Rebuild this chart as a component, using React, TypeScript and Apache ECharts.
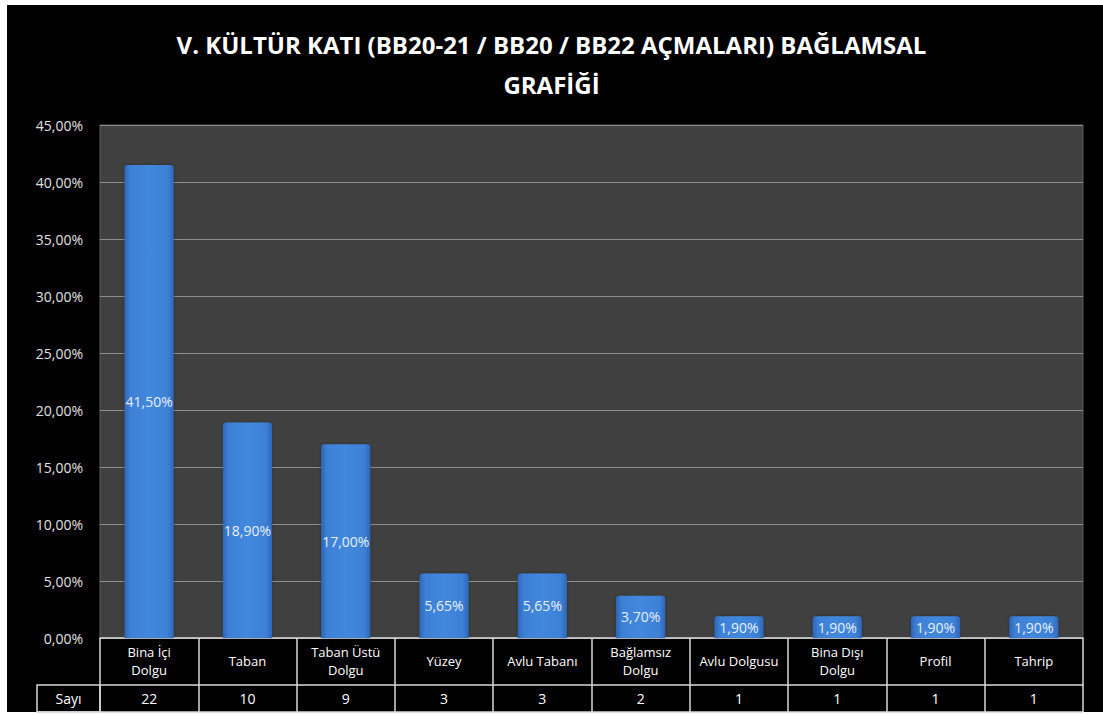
import React, { useEffect, useRef } from "react";
import * as echarts from "echarts";

const title = "V. KÜLTÜR KATI (BB20-21 / BB20 / BB22 AÇMALARI) BAĞLAMSAL\nGRAFİĞİ";
const categories = [
  "Bina İçi\nDolgu",
  "Taban",
  "Taban Üstü\nDolgu",
  "Yüzey",
  "Avlu Tabanı",
  "Bağlamsız\nDolgu",
  "Avlu Dolgusu",
  "Bina Dışı\nDolgu",
  "Profil",
  "Tahrip",
];
const percents = [41.5, 18.9, 17.0, 5.65, 5.65, 3.7, 1.9, 1.9, 1.9, 1.9];
const counts = ["22", "10", "9", "3", "3", "2", "1", "1", "1", "1"];
const countLabel = "Sayı";
const yTicks = { min: 0, max: 45, interval: 5 };

const FONT = "'Open Sans', 'Noto Sans', sans-serif";
const fmt = (v: number) => v.toFixed(2).replace(".", ",") + "%";

export default function App() {
  const ref = useRef<HTMLDivElement>(null);
  useEffect(() => {
    document.body.style.margin = "0";
    const chart = echarts.init(ref.current!, undefined, { renderer: "svg" });
    const L = 100, R = 20, T = 125, B = 77;
    const W = 1103, H = 715;
    const zeroY = H - B;
    chart.setOption({
      animation: false,
      backgroundColor: "#ffffff",
      title: {
        text: title,
        left: "center",
        top: 19,
        textStyle: { color: "#ffffff", fontSize: 24, fontWeight: "bold", fontFamily: FONT, lineHeight: 40 },
      },
      graphic: [
        { type: "rect", z: -10, silent: true, shape: { x: 7, y: 5, width: W - 7, height: 707 }, style: { fill: "#000000" } },
        { type: "rect", z: 10, shape: { x: 37, y: zeroY + 47, width: L - 37, height: 27 }, style: { fill: "none", stroke: "#d8d8d8", lineWidth: 1.5 } },
        { type: "line", z: 10, shape: { x1: 37, y1: zeroY + 74, x2: W - R, y2: zeroY + 74 }, style: { stroke: "#d8d8d8", lineWidth: 1.5 } },
        { type: "text", z: 10, x: (37 + L) / 2, y: zeroY + 60.5, style: { text: countLabel, fill: "#ffffff", font: `14px ${FONT}`, align: "center", verticalAlign: "middle" } },
      ],
      grid: { left: L, right: R, top: T, bottom: B, show: true, backgroundColor: "#404040", borderColor: "#5c5c5c", borderWidth: 1 },
      xAxis: [
        {
          type: "category",
          data: categories,
          axisLine: { show: true, lineStyle: { color: "#d8d8d8", width: 1.5 } },
          axisTick: { show: true, interval: 0, length: 74, lineStyle: { color: "#d8d8d8", width: 1.5 } },
          axisLabel: { interval: 0, color: "#ffffff", fontSize: 13, fontFamily: FONT, margin: 23, verticalAlign: "middle", lineHeight: 18 },
        },
        {
          type: "category",
          data: counts,
          position: "bottom",
          offset: 47,
          axisLine: { show: true, lineStyle: { color: "#d8d8d8", width: 1.5 } },
          axisTick: { show: false },
          axisLabel: { interval: 0, color: "#ffffff", fontSize: 14, fontFamily: FONT, margin: 13.5, verticalAlign: "middle" },
        },
      ],
      yAxis: {
        type: "value",
        min: yTicks.min,
        max: yTicks.max,
        interval: yTicks.interval,
        axisLine: { show: false },
        axisTick: { show: false },
        splitLine: { lineStyle: { color: "#8c8c8c", width: 1 } },
        axisLabel: { color: "#e0e0e0", fontSize: 14, fontFamily: FONT, margin: 17, formatter: (v: number) => fmt(v) },
      },
      series: [
        {
          type: "bar",
          data: percents,
          xAxisIndex: 0,
          barWidth: "50%",
          itemStyle: {
            color: new echarts.graphic.LinearGradient(0, 0, 1, 0, [
              { offset: 0, color: "#2d66b8" },
              { offset: 0.12, color: "#3d80d6" },
              { offset: 0.5, color: "#4288dc" },
              { offset: 0.88, color: "#3d80d6" },
              { offset: 1, color: "#2d66b8" },
            ]),
            borderRadius: [3, 3, 0, 0],
            shadowColor: "rgba(0,0,0,0.35)",
            shadowBlur: 3,
          },
          label: {
            show: true,
            position: "inside",
            color: "#e8eef8",
            fontSize: 14,
            fontFamily: FONT,
            formatter: (p: any) => fmt(p.value),
          },
        },
      ],
    });
    return () => chart.dispose();
  }, []);
  return <div ref={ref} style={{ width: 1103, height: 715 }} />;
}
